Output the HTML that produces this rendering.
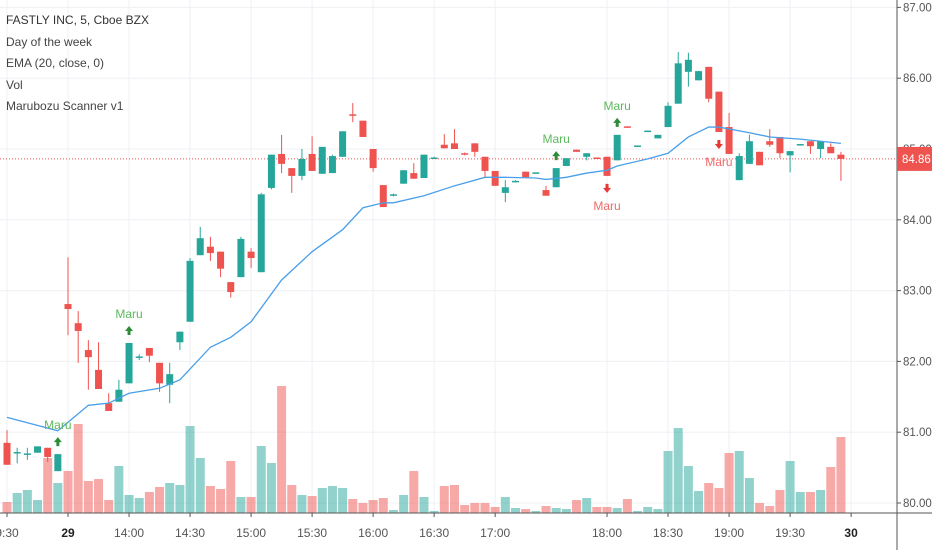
<!DOCTYPE html>
<html><head><meta charset="utf-8">
<style>
html,body{margin:0;padding:0;background:#fff;}
svg{display:block;font-family:"Liberation Sans",sans-serif;}
</style></head>
<body>
<svg id="chart" width="932" height="550" viewBox="0 0 932 550" xmlns="http://www.w3.org/2000/svg">
<g id="grid"></g>
<g id="vol"></g>
<g id="candles"></g>
<polyline id="ema" fill="none" stroke="#4a9fe8" stroke-width="1.3"/>
<g id="signals"></g>
<g id="axes"></g>
<g font-size="12" fill="#444">
<text x="6" y="24" fill="#333">FASTLY INC, 5, Cboe BZX</text>
<text x="6" y="46">Day of the week</text>
<text x="6" y="67">EMA (20, close, 0)</text>
<text x="6" y="89">Vol</text>
<text x="6" y="110">Marubozu Scanner v1</text>
</g>
</svg>
<script>
const opens  = [80.85,80.70,80.68,80.71,80.78,80.45,82.81,82.54,82.16,81.88,81.41,81.43,81.69,82.05,82.19,81.98,81.67,82.27,82.56,83.50,83.62,83.55,83.12,83.19,83.55,83.26,84.45,84.93,84.73,84.62,84.93,84.65,84.66,84.89,85.49,85.40,85.00,84.49,84.34,84.51,84.66,84.59,84.87,85.06,85.08,84.94,85.08,84.89,84.69,84.38,84.54,84.68,84.66,84.42,84.46,84.76,84.99,84.89,84.88,84.89,84.84,85.32,85.03,85.24,85.15,85.31,85.64,86.09,85.97,86.16,85.81,85.31,84.56,84.79,84.96,85.11,85.17,84.91,85.06,85.11,85.00,85.03,84.92];
const highs  = [81.03,80.78,80.78,80.80,80.78,80.69,83.47,82.71,82.30,82.27,81.55,81.74,82.26,82.10,82.19,81.98,81.98,82.42,83.46,83.90,83.76,83.55,83.12,83.76,83.60,84.38,84.92,85.20,84.73,85.00,85.18,85.03,84.92,85.25,85.65,85.40,85.00,84.49,84.37,84.70,84.80,84.92,84.89,85.21,85.28,84.95,85.08,84.89,84.69,84.56,84.56,84.68,84.67,84.48,84.73,84.87,84.99,84.94,84.88,84.89,85.20,85.32,85.05,85.26,85.20,85.66,86.37,86.36,86.10,86.16,85.81,85.51,84.94,85.20,84.96,85.28,85.17,84.97,85.07,85.11,85.11,85.08,84.96];
const lows   = [80.54,80.56,80.61,80.71,80.58,80.45,82.37,81.98,81.60,81.61,81.30,81.43,81.69,82.02,81.99,81.57,81.41,82.16,82.56,83.50,83.42,83.19,82.90,83.19,83.32,83.26,84.43,84.66,84.38,84.56,84.69,84.65,84.66,84.89,85.38,85.17,84.68,84.18,84.33,84.51,84.58,84.59,84.86,85.01,85.00,84.91,84.89,84.60,84.48,84.25,84.53,84.60,84.66,84.34,84.46,84.76,84.96,84.84,84.86,84.62,84.84,85.30,85.03,85.24,85.15,85.31,85.64,85.88,85.97,85.66,85.24,84.93,84.56,84.79,84.77,85.03,84.87,84.67,85.06,84.93,84.87,84.94,84.55];
const closes = [80.54,80.72,80.70,80.80,80.65,80.69,82.74,82.43,82.06,81.61,81.30,81.60,82.26,82.07,82.08,81.69,81.82,82.42,83.42,83.74,83.53,83.31,82.98,83.73,83.46,84.36,84.92,84.79,84.62,84.86,84.69,85.03,84.90,85.25,85.47,85.17,84.73,84.18,84.36,84.70,84.58,84.92,84.88,85.01,85.00,84.92,84.96,84.69,84.48,84.46,84.55,84.60,84.67,84.34,84.73,84.87,84.96,84.94,84.86,84.62,85.20,85.30,85.05,85.26,85.20,85.61,86.21,86.26,86.10,85.71,85.24,84.93,84.90,85.11,84.77,85.06,84.94,84.97,85.07,85.04,85.11,84.94,84.86];
const volumes = [11,20,23,13,55,30,42,89,32,34,13,47,18,15,21,26,30,28,87,55,27,24,52,16,16,67,50,127,28,18,17,25,27,25,14,10,13,15,3,18,42,16,2,27,28,8,10,10,6,16,5,4,2,7,5,4,13,15,6,6,5,14,2,6,4,62,85,47,22,30,25,60,62,35,10,7,23,52,21,21,23,46,76];
const emaIdx = [0,5,8,10,12,15,17,20,22,24,27,30,33,35,37,38,41,44,47,49,52,53,55,57,59,60,63,65,67,69,70,73,75,78,82];
const emaVal = [81.21,81.02,81.38,81.41,81.55,81.62,81.74,82.20,82.34,82.56,83.15,83.55,83.86,84.17,84.24,84.24,84.34,84.48,84.60,84.60,84.59,84.57,84.60,84.66,84.70,84.76,84.86,84.94,85.17,85.31,85.31,85.23,85.17,85.14,85.08];
const maruUp = [5,12,54,60];
const maruDown = [59,70];
const priceTicks = [80,81,82,83,84,85,86,87];
const timeLabels = ["9:30","29","14:00","14:30","15:00","15:30","16:00","16:30","17:00","18:00","18:30","19:00","19:30","30"];
const timeIdx = [0,6,12,18,24,30,36,42,48,59,65,71,77,83];
const lastPrice = 84.86;

const NS="http://www.w3.org/2000/svg";
const PLOT_R=897, PLOT_B=513;
const xOf = i => 7 + i*10.17;
const yOf = p => 503 - (p-80)*70.8;
const vY = v => PLOT_B - v;
function mk(tag, attrs, parent){const e=document.createElementNS(NS,tag);for(const k in attrs)e.setAttribute(k,attrs[k]);parent.appendChild(e);return e;}
const UP="#26a69a", DN="#ef5350";

const grid=document.getElementById('grid');
priceTicks.forEach(p=>{
  const l=mk('line',{x1:0,x2:PLOT_R,y1:yOf(p),y2:yOf(p),stroke:"#eef0f5","stroke-width":1},grid);
  
  
});
timeIdx.forEach(i=>{
  const l=mk('line',{x1:xOf(i),x2:xOf(i),y1:0,y2:PLOT_B,stroke:"#eef0f5","stroke-width":1},grid);
  
  
});

const vol=document.getElementById('vol');
volumes.forEach((v,i)=>{
  const up=closes[i]>=opens[i];
  const r=mk('rect',{x:xOf(i)-4.5,y:vY(v),width:9,height:v,fill:up?"rgba(38,166,154,0.5)":"rgba(239,83,80,0.5)"},vol);
  
  
});

const pl=mk('line',{x1:0,x2:PLOT_R,y1:yOf(lastPrice),y2:yOf(lastPrice),stroke:DN,"stroke-width":1,"stroke-dasharray":"1 2"},grid);



const cg=document.getElementById('candles');
opens.forEach((o,i)=>{
  const c=closes[i], up=c>=o, col=up?UP:DN, x=xOf(i);
  const g=mk('g',{},cg);
  
  
  mk('line',{x1:x,x2:x,y1:yOf(highs[i]),y2:yOf(lows[i]),stroke:col,"stroke-width":1},g);
  const top=yOf(Math.max(o,c)), bot=yOf(Math.min(o,c));
  mk('rect',{x:x-3.5,y:top,width:7,height:Math.max(bot-top,1.5),fill:col},g);
});

document.getElementById('ema').setAttribute('points',emaIdx.map((i,k)=>xOf(i)+","+yOf(emaVal[k])).join(" "));

const sg=document.getElementById('signals');
maruUp.forEach(i=>{
  const x=xOf(i), y=yOf(highs[i])-12;
  const a=mk('path',{d:`M${x} ${y-5} L${x+4} ${y} L${x+1.5} ${y} L${x+1.5} ${y+4} L${x-1.5} ${y+4} L${x-1.5} ${y} L${x-4} ${y} Z`,fill:"#2e8b3a"},sg);
  
  
  const t=mk('text',{x:x,y:y-13,"text-anchor":"middle","font-size":12,fill:"#5cb85c"},sg);
  t.textContent="Maru";
  
  
});
maruDown.forEach(i=>{
  const x=xOf(i), y=yOf(lows[i])+12;
  const a=mk('path',{d:`M${x} ${y+5} L${x+4} ${y} L${x+1.5} ${y} L${x+1.5} ${y-4} L${x-1.5} ${y-4} L${x-1.5} ${y} L${x-4} ${y} Z`,fill:"#e53935"},sg);
  
  
  const t=mk('text',{x:x,y:y+22,"text-anchor":"middle","font-size":12,fill:"#f06a68"},sg);
  t.textContent="Maru";
  
  
});

const ax=document.getElementById('axes');
mk('line',{x1:PLOT_R,x2:PLOT_R,y1:0,y2:550,stroke:"#555","stroke-width":1},ax);
mk('line',{x1:0,x2:932,y1:PLOT_B,y2:PLOT_B,stroke:"#555","stroke-width":1},ax);
priceTicks.forEach(p=>{
  mk('line',{x1:PLOT_R,x2:PLOT_R+4,y1:yOf(p),y2:yOf(p),stroke:"#555"},ax);
  const t=mk('text',{x:903,y:yOf(p)+4,"font-size":11.5,fill:"#555"},ax);
  t.textContent=p.toFixed(2);
  
  
});
timeIdx.forEach((i,k)=>{
  mk('line',{x1:xOf(i),x2:xOf(i),y1:PLOT_B,y2:PLOT_B+4,stroke:"#555"},ax);
  const bold=/^\d\d$/.test(timeLabels[k]);
  const t=mk('text',{x:xOf(i),y:537,"text-anchor":"middle","font-size":12,fill:bold?"#222":"#555","font-weight":bold?"bold":"normal"},ax);
  t.textContent=timeLabels[k];
  
  
});
const tag=mk('rect',{x:PLOT_R,y:yOf(lastPrice)-12,width:35,height:24,fill:DN},ax);


const tt=mk('text',{x:902,y:yOf(lastPrice)+4,"font-size":11.5,fill:"#fff"},ax);
tt.textContent=lastPrice.toFixed(2);


</script>
</body></html>
